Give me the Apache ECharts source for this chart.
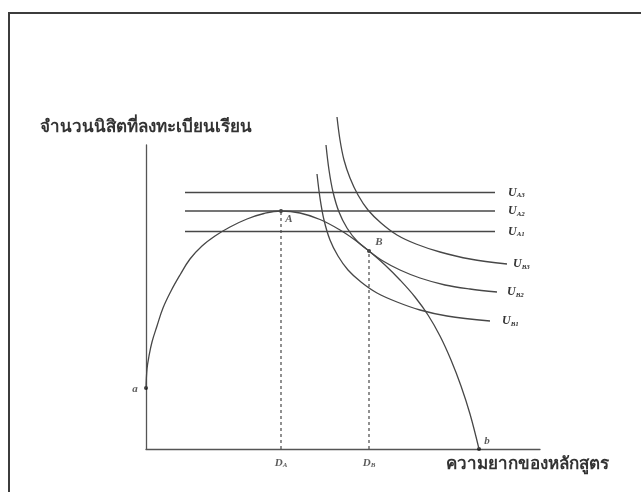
<!DOCTYPE html>
<html><head><meta charset="utf-8">
<script src="https://cdn.jsdelivr.net/npm/echarts@6/dist/echarts.min.js"></script>
<style>
html,body{margin:0;padding:0;background:#fff}
#wrap{position:relative;width:641px;height:492px;overflow:hidden;background:#fff}
#c{width:641px;height:492px}
#frame{position:absolute;left:8px;top:12px;right:-10px;bottom:-10px;border-left:2px solid #3c3c3c;border-top:2px solid #3c3c3c;pointer-events:none}
</style>
</head><body>
<div id="wrap"><div id="c"></div><div id="frame"></div></div>
<script>
// ---- data (arbitrary units) ----
const yAxisTitle = 'จำนวนนิสิตที่ลงทะเบียนเรียน';
const xAxisTitle = 'ความยากของหลักสูตร';
const xMax = 394, yMax = 304;

// curve from a to b
const ppf = [[0,61],[1,80],[3,93],[6,107],[11,123],[17,141],[25,158],[34,174],[44,190],[56,203],[69,213],[84,222],[101,230],[118,235.5],[135,238],[154,236],[174,229.5],[194,219],[209,209],[223,198],[239,184],[254,169],[269,152],[282,134],[294,113],[305,89],[315,63],[324,35],[333,0]];

// horizontal indifference lines U_A1, U_A2, U_A3
const uANames = ['A1','A2','A3'];
const uALevels = [217.5, 238, 256.5];
const uARange = [39, 349];

// convex indifference curves U_B1, U_B2, U_B3
const uBNames = ['B1','B2','B3'];
const uB1 = [[171,275],[174,251],[178,229],[184,209],[192,193],[202,179],[215,167],[231,156],[251,147],[274,139],[301,133],[344,128]];
const uB2 = [[180,304],[183,279],[187,257],[193,237],[201,221],[211,208],[223,198],[237,188],[254,179],[274,171],[299,164],[324,160],[351,157]];
const uB3 = [[191,332],[194,309],[198,289],[204,271],[212,254],[222,239],[235,226],[251,214],[270,205],[294,197],[324,190],[361,185]];

// labelled points
const pointNames = ['a','A','B','b'];
const pointX = [0, 135, 223, 333];
const pointY = [61, 238, 198, 0];
const dNames = ['A','B'];
const dX = [135, 223];
const dY = [238, 198];

// ---- chart ----
const lineColor = '#474747';
const serif = 'Liberation Serif';
const uRich = {
  u: {fontFamily: serif, fontStyle: 'italic', fontWeight: 'bold', fontSize: 12, color: '#333'},
  s: {fontFamily: serif, fontStyle: 'italic', fontWeight: 'bold', fontSize: 7, color: '#333', padding: [6,0,0,0]}
};
const series = [];

series.push({type:'line', data: ppf, smooth: 0.4, showSymbol:false, silent:true,
  lineStyle:{color: lineColor, width:1.3}});

uALevels.forEach((lv, i) => {
  series.push({type:'line', data:[[uARange[0], lv],[uARange[1], lv]], showSymbol:false, silent:true,
    lineStyle:{color: lineColor, width:1.3},
    endLabel:{show:true, distance: 13, formatter: '{u|U}{s|' + uANames[i] + '}', rich: uRich}});
});

const uBs = [uB1, uB2, uB3];
const uBDist = [12, 10, 6];
uBs.forEach((d, i) => {
  series.push({type:'line', data: d, smooth: 0.35, showSymbol:false, silent:true, clip:false,
    lineStyle:{color: lineColor, width:1.3},
    endLabel:{show:true, distance: uBDist[i], formatter: '{u|U}{s|' + uBNames[i] + '}', rich: uRich}});
});

dX.forEach((x, i) => {
  series.push({type:'line', data:[[x,0],[x,dY[i]]], showSymbol:false, silent:true,
    lineStyle:{color: lineColor, width:1.2, type:[3,3]}});
});

const ptOffsets = [[-11,1],[8,8],[10,-9],[8,-8]];
series.push({type:'scatter', symbolSize:4, silent:true,
  itemStyle:{color:'#111'},
  data: pointNames.map((n,i) => ({value:[pointX[i], pointY[i]],
    label:{show:true, position:'inside', offset: ptOffsets[i], formatter: n,
      fontFamily: serif, fontStyle:'italic', fontWeight:'bold', fontSize: 11, color:'#333'}}))
});

series.push({type:'scatter', symbolSize:0, silent:true,
  data: dNames.map((n,i) => ({value:[dX[i], 0],
    label:{show:true, position:'bottom', distance: 8, formatter: '{u|D}{s|' + n + '}',
      rich:{u:{fontFamily: serif, fontStyle:'italic', fontWeight:'bold', fontSize: 11, color:'#333'},
            s:{fontFamily: serif, fontStyle:'italic', fontWeight:'bold', fontSize: 7, color:'#333', padding:[5,0,0,0]}}}}))
});

const chart = echarts.init(document.getElementById('c'), null, {renderer:'canvas'});
chart.setOption({
  animation:false,
  backgroundColor:'#fff',
  grid:{left:146, top:145, width:394, height:304, containLabel:false},
  xAxis:{type:'value', min:0, max:xMax, axisLine:{show:true, lineStyle:{color:'#555', width:1.3}},
    axisTick:{show:false}, axisLabel:{show:false}, splitLine:{show:false},
    name: xAxisTitle, nameLocation:'end', nameGap:-94,
    nameTextStyle:{align:'left', verticalAlign:'top', padding:[7,0,0,0], fontSize:17, fontWeight:'bold', color:'#333'}},
  yAxis:{type:'value', min:0, max:yMax, axisLine:{show:true, lineStyle:{color:'#555', width:1.3}},
    axisTick:{show:false}, axisLabel:{show:false}, splitLine:{show:false},
    name: yAxisTitle, nameLocation:'end', nameGap:9,
    nameTextStyle:{align:'center', fontSize:17, fontWeight:'bold', color:'#333'}},
  series
});
</script>
</body></html>
